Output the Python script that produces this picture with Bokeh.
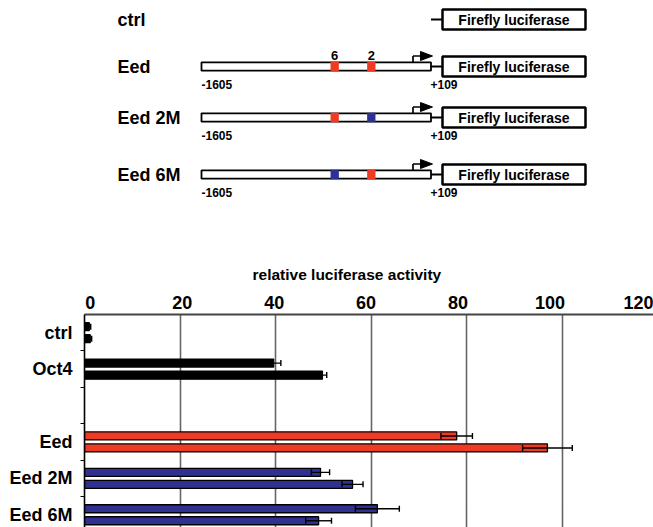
from bokeh.plotting import figure
from bokeh.layouts import column
from bokeh.models import ColumnDataSource, Range1d, FixedTicker, Whisker, TeeHead
from bokeh.embed import file_html
from bokeh.resources import INLINE
from bokeh.core.properties import value

FONT = "Liberation Sans"
RED = "#EE3B24"
BLUE = "#2E3192"

# ---------------- schematic content ----------------
constructs = ["ctrl", "Eed", "Eed 2M", "Eed 6M"]
has_promoter = [False, True, True, True]
site_labels = ["6", "2"]
# mutated flags for sites (6, 2) of each promoter construct
site_mutated = {"Eed": [False, False], "Eed 2M": [False, True], "Eed 6M": [True, False]}
promoter_start = "-1605"
promoter_end = "+109"
reporter = "Firefly luciferase"

# ---------------- bar chart data ----------------
categories = ["ctrl", "Oct4", "", "Eed", "Eed 2M", "Eed 6M"]
rep1 = [1.0, 39.6, None, 77.9, 49.4, 61.3]
rep1_err = [0.3, 1.5, None, 3.3, 1.9, 4.6]
rep2 = [1.2, 49.8, None, 96.9, 56.1, 49.0]
rep2_err = [0.3, 0.9, None, 5.2, 2.2, 2.7]
bar_colors = ["black", "black", None, RED, BLUE, BLUE]
x_ticks = [0, 20, 40, 60, 80, 100, 120]
x_title = "relative luciferase activity"

# ---------------- layout constants (pixels) ----------------
W = 653
LEFT = 84
TOP_H = 240
BOT_H = 527 - TOP_H
ROW_Y = [19, 66, 117, 174]
NAME_X = 117
PROM_X0, PROM_X1 = 201, 430.5
SITE_X = [334.2, 370.8]
BOX_X0, BOX_X1 = 442, 585
BAR_H = 8.4
ARROW_X = 412.5

# ================= schematic figure =================
s = figure(width=W, height=TOP_H, x_range=Range1d(LEFT, W), y_range=Range1d(TOP_H, 0),
           output_backend="svg", toolbar_location=None, min_border=0, min_border_left=LEFT,
           x_axis_type=None, y_axis_type=None)
s.outline_line_color = None
s.background_fill_color = "white"
s.border_fill_color = "white"

txt = dict(text_font=value(FONT), text_font_style="bold", text_color="black")

# construct names
s.text(x=[NAME_X] * len(constructs), y=ROW_Y, text=constructs, text_font_size="18px",
       text_align="left", text_baseline="middle", **txt)

# connectors to the reporter
s.segment(x0=[PROM_X1] * len(constructs), y0=ROW_Y, x1=[BOX_X0] * len(constructs), y1=ROW_Y,
          line_color="black", line_width=2)

# reporter boxes
s.quad(left=[BOX_X0] * len(constructs), right=[BOX_X1] * len(constructs),
       top=[y - 10 for y in ROW_Y], bottom=[y + 10 for y in ROW_Y],
       fill_color="white", line_color="black", line_width=2.5)
s.text(x=[(BOX_X0 + BOX_X1) / 2] * len(constructs), y=ROW_Y, text=[reporter] * len(constructs),
       text_font_size="14px", text_align="center", text_baseline="middle", **txt)

prom_rows = [(c, y) for c, y, h in zip(constructs, ROW_Y, has_promoter) if h]
py = [y for _, y in prom_rows]
n = len(py)

# promoter bars
s.quad(left=[PROM_X0] * n, right=[PROM_X1] * n, top=[y - BAR_H / 2 for y in py],
       bottom=[y + BAR_H / 2 for y in py], fill_color="white", line_color="black", line_width=1.8)

# binding sites (red = intact, blue = mutated)
sx, sy, sc = [], [], []
for c, y in prom_rows:
    for j, x in enumerate(SITE_X):
        sx.append(x)
        sy.append(y)
        sc.append(BLUE if site_mutated[c][j] else RED)
s.rect(x=sx, y=sy, width=8.3, height=BAR_H + 1, fill_color=sc, line_color=None)

# site labels above the wild-type Eed promoter
s.text(x=SITE_X, y=[py[0] - 11] * len(SITE_X), text=site_labels, text_font_size="13px",
       text_align="center", text_baseline="middle", **txt)

# transcription start arrows
s.segment(x0=[ARROW_X] * n, y0=[y - BAR_H / 2 for y in py], x1=[ARROW_X] * n, y1=[y - 10.5 for y in py],
          line_color="black", line_width=1.7)
s.segment(x0=[ARROW_X] * n, y0=[y - 10.5 for y in py], x1=[422] * n, y1=[y - 10.5 for y in py],
          line_color="black", line_width=1.7)
s.patches(xs=[[420, 420, 432] for _ in py], ys=[[y - 15, y - 6, y - 10.5] for y in py],
          fill_color="black", line_color="black", line_width=1)

# coordinates
s.text(x=[PROM_X0] * n, y=[y + 18 for y in py], text=[promoter_start] * n, text_font_size="12px",
       text_align="left", text_baseline="middle", **txt)
s.text(x=[PROM_X1 - 0.5] * n, y=[y + 18 for y in py], text=[promoter_end] * n, text_font_size="12px",
       text_align="left", text_baseline="middle", **txt)

# ================= bar chart =================
X_END = 119.1                  # visible part of the value scale (gridlines / bars)
LAB_START, LAB_END = -1.26, 122.54   # tick-label row as printed in the original (slightly compressed)
Y_TOP, Y_BOTTOM = -0.5, 5.35

p = figure(width=W, height=BOT_H, x_range=Range1d(0, X_END), y_range=Range1d(Y_BOTTOM, Y_TOP),
           x_axis_location="above", output_backend="svg", toolbar_location=None,
           min_border_left=LEFT, min_border_right=0, min_border_bottom=0, min_border_top=74,
           title=x_title)
p.extra_x_ranges = {"labels": Range1d(LAB_START, LAB_END)}
p.outline_line_color = None
p.background_fill_color = "white"
p.border_fill_color = "white"

p.title.align = "left"
p.title.offset = 168
p.title.text_font = FONT
p.title.text_font_style = "bold"
p.title.text_font_size = "15.5px"
p.title.text_color = "black"
p.title.standoff = 19

xa = p.xaxis[0]
xa.x_range_name = "labels"
xa.ticker = FixedTicker(ticks=x_ticks)
xa.axis_line_color = "#444444"
xa.axis_line_width = 1.8
xa.major_tick_in = 0
xa.major_tick_out = 0
xa.minor_tick_line_color = None
xa.major_label_standoff = 6
xa.major_label_text_font = FONT
xa.major_label_text_font_style = "bold"
xa.major_label_text_font_size = "18px"
xa.major_label_text_color = "black"

p.xgrid.ticker = FixedTicker(ticks=[t for t in x_ticks if 0 < t < X_END])
p.xgrid.grid_line_color = "#666666"
p.xgrid.grid_line_width = 1.6
p.ygrid.grid_line_color = None

ya = p.yaxis[0]
centers = [i for i, c in enumerate(categories) if c]
ya.ticker = FixedTicker(ticks=centers, minor_ticks=[i + 0.5 for i in range(len(categories) - 1)])
ya.major_label_overrides = {i: c for i, c in enumerate(categories) if c}
ya.axis_line_color = "black"
ya.axis_line_width = 1.6
ya.major_tick_in = 0
ya.major_tick_out = 0
ya.minor_tick_in = 0
ya.minor_tick_out = 4
ya.minor_tick_line_color = "black"
ya.minor_tick_line_width = 1.2
ya.major_label_standoff = 8
ya.major_label_text_font = FONT
ya.major_label_text_font_style = "bold"
ya.major_label_text_font_size = "18px"
ya.major_label_text_color = "black"

OFF = 0.165
ys, vals, errs, cols = [], [], [], []
for i, c in enumerate(categories):
    if not c:
        continue
    ys += [i - OFF, i + OFF]
    vals += [rep1[i], rep2[i]]
    errs += [rep1_err[i], rep2_err[i]]
    cols += [bar_colors[i], bar_colors[i]]

src = ColumnDataSource(dict(y=ys, v=vals, c=cols,
                            lo=[v - e for v, e in zip(vals, errs)],
                            hi=[v + e for v, e in zip(vals, errs)]))
p.hbar(y="y", left=0, right="v", height=0.22, fill_color="c", line_color="black",
       line_width=1.3, source=src)

wk = Whisker(source=src, base="y", lower="lo", upper="hi", dimension="width",
             line_color="black", line_width=1.4, level="annotation",
             lower_head=TeeHead(size=6, line_color="black", line_width=1.4),
             upper_head=TeeHead(size=6, line_color="black", line_width=1.4))
p.add_layout(wk)

layout = column(s, p, spacing=0)
open("out.html", "w").write(file_html(layout, INLINE))
